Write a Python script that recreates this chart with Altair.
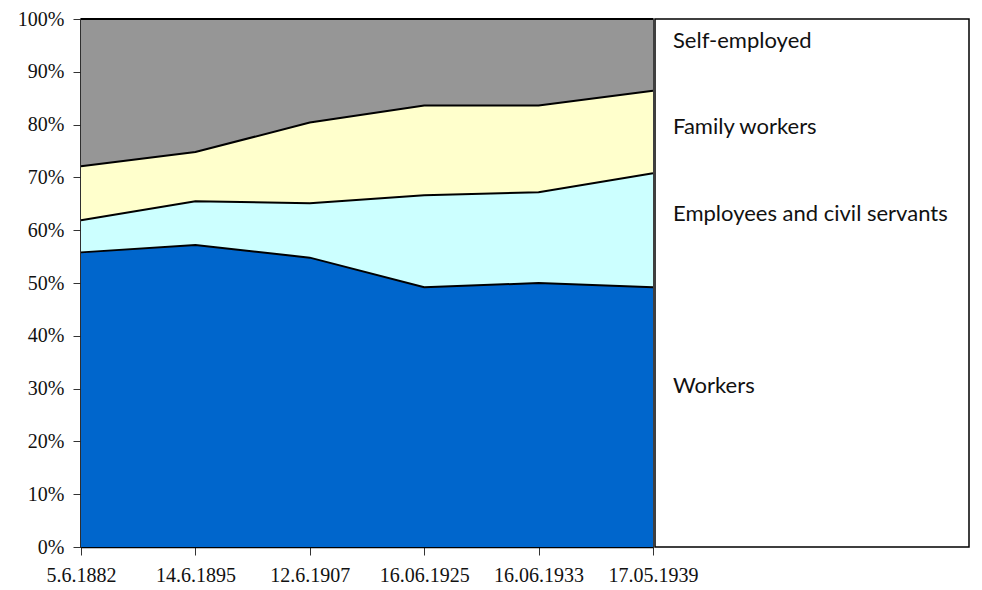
import altair as alt
import pandas as pd

dates = ["5.6.1882", "14.6.1895", "12.6.1907", "16.06.1925", "16.06.1933", "17.05.1939"]
groups = ["Workers", "Employees and civil servants", "Family workers", "Self-employed"]
workers = [55.8, 57.2, 54.8, 49.2, 50.0, 49.2]
employees = [6.1, 8.3, 10.3, 17.4, 17.2, 21.6]
family = [10.2, 9.3, 15.3, 17.0, 16.4, 15.6]
selfemp = [27.9, 25.2, 19.6, 16.4, 16.4, 13.6]
colors = ["#0066CC", "#CCFFFF", "#FFFFCC", "#969696"]
legend_labels = ["Self-employed", "Family workers", "Employees and civil servants", "", "Workers"]

rows = []
for gi, (g, vals) in enumerate(zip(groups, [workers, employees, family, selfemp])):
    for di, (d, v) in enumerate(zip(dates, vals)):
        rows.append({"date": d, "idx": di, "group": g, "order": gi, "value": v})
df = pd.DataFrame(rows)

axis_font = dict(labelFont="Liberation Serif", labelFontSize=20, labelColor="#111",
                 tickColor="#333", tickSize=8, domainColor="black", domainWidth=1.5,
                 grid=False)

x_enc = alt.X("date:O", sort=dates, title=None,
              scale=alt.Scale(type="point", padding=0),
              axis=alt.Axis(labelAngle=0, labelPadding=10, **axis_font))
y_scale = alt.Scale(domain=[0, 100], nice=False)
y_axis = alt.Axis(values=list(range(0, 101, 10)), labelExpr="datum.value + '%'",
                  labelPadding=9, **axis_font)

base = alt.Chart(df).transform_window(
    top="sum(value)", frame=[None, 0], sort=[{"field": "order"}], groupby=["date"]
).transform_calculate(bottom="datum.top - datum.value")

area = base.mark_area(opacity=1).encode(
    x=x_enc,
    y=alt.Y("top:Q", title=None, scale=y_scale, axis=y_axis),
    y2="bottom:Q",
    color=alt.Color("group:N", scale=alt.Scale(domain=groups, range=colors), legend=None),
)

lines = base.mark_line(color="black", strokeWidth=2).encode(
    x=x_enc,
    y=alt.Y("top:Q", scale=y_scale),
    detail="group:N",
    order=alt.Order("idx:Q"),
)

plot = alt.layer(area, lines).properties(width=572, height=528)

leg_df = pd.DataFrame({"label": [l for l in legend_labels if l]})
legend = alt.Chart(leg_df).mark_text(
    align="left", baseline="middle", font="Lato", fontSize=22, color="#111"
).encode(
    x=alt.value(18),
    y=alt.Y("label:N", axis=None,
            scale=alt.Scale(domain=legend_labels, range=[22, 367], padding=0)),
    text="label:N",
).properties(width=314, height=528)

chart = alt.hconcat(plot, legend, spacing=2, bounds="flush").properties(
    padding={"top": 0, "left": 8, "right": 0, "bottom": 0}
).configure(background="white").configure_view(stroke="black", strokeWidth=1.5)

chart.save("out.html", embed_options={"renderer": "svg", "actions": False})
